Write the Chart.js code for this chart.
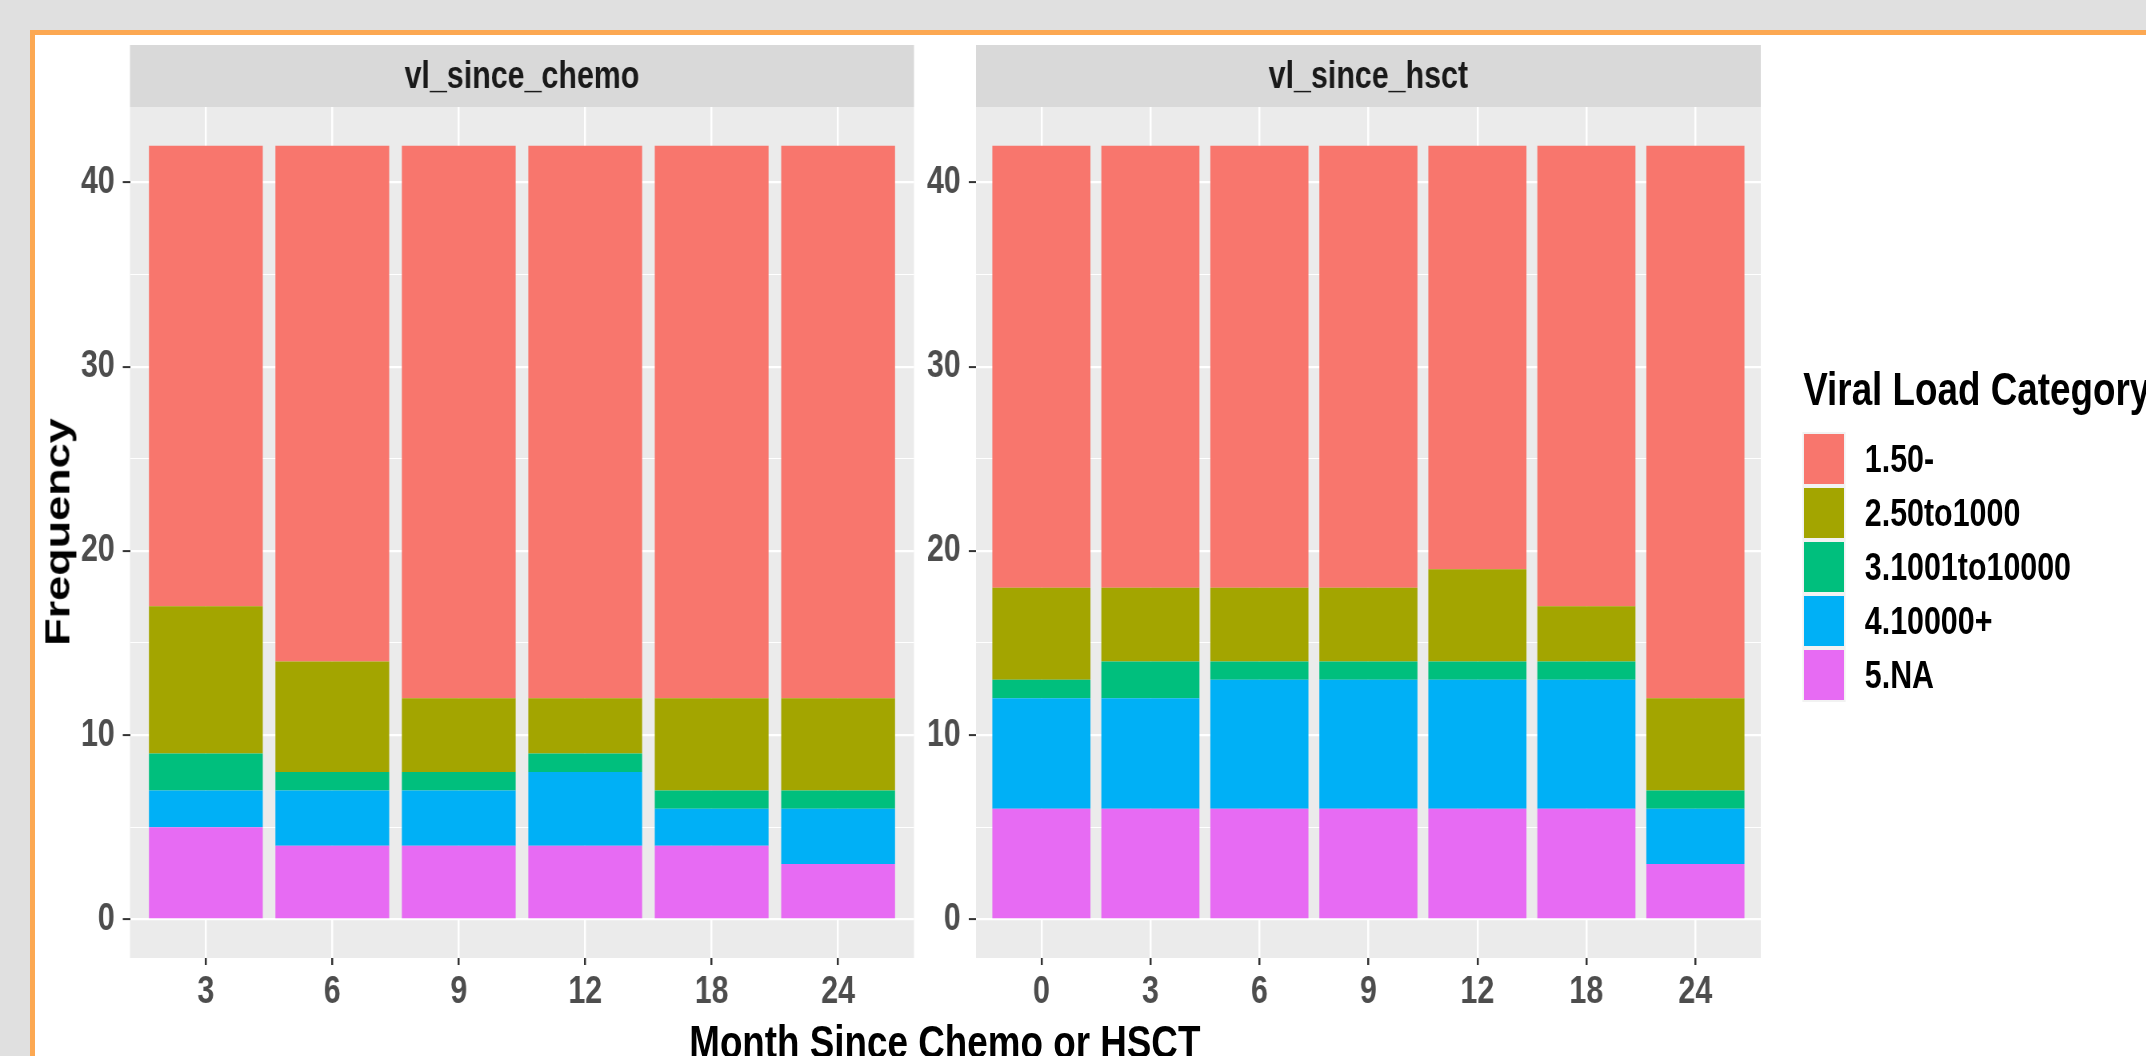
<!DOCTYPE html>
<html>
<head>
<meta charset="utf-8">
<script src="https://cdn.jsdelivr.net/npm/chart.js@4.4.1/dist/chart.umd.min.js"></script>
<style>
  html, body { margin: 0; padding: 0; width: 2146px; height: 1056px; overflow: hidden; background: #e0e0e0; }
  #frame { position: absolute; left: 30px; top: 30px; width: 2200px; height: 1100px; background: #fff;
           border-left: 5px solid #fca852; border-top: 5px solid #fca852; }
  /* the original picture is squeezed horizontally, so the whole plot is drawn wide and scaled */
  #plot { position: absolute; left: 0; top: 0; width: 2683px; height: 1056px;
          transform: scaleX(0.8); transform-origin: 0 0;
          font-family: 'Liberation Sans', Arial, sans-serif; font-weight: bold; }
  canvas { position: absolute; top: 0; }
  #c1 { left: 0; }
  #c2 { left: 1150px; }
  .ttl { position: absolute; white-space: nowrap; color: #000; line-height: 1; }
  #xtitle { left: 1181px; top: 1042px; font-size: 46px; transform: translate(-50%, -50%); }
  #ytitle { left: 71px; top: 532px; font-size: 45px; transform: translate(-50%, -50%) rotate(-90deg); }
  #ltitle { left: 2254px; top: 366px; font-size: 46px; }
  .key { position: absolute; left: 2253px; width: 54px; height: 54px; background: #f2f2f2; }
  .key div { position: absolute; left: 2px; top: 2px; right: 2px; bottom: 2px; }
  .lab { position: absolute; left: 2331px; height: 54px; line-height: 54px; font-size: 38px; color: #000; white-space: nowrap; }
</style>
</head>
<body>
<div id="frame"></div>
<div id="plot">
  <canvas id="c1" width="1150" height="1056"></canvas>
  <canvas id="c2" width="1090" height="1056"></canvas>
  <div class="ttl" id="ytitle">Frequency</div>
  <div class="ttl" id="xtitle">Month Since Chemo or HSCT</div>
  <div class="ttl" id="ltitle">Viral Load Category</div>
  <div id="legend"></div>
</div>
<script>
// series, top of the stack first
const SERIES = ['1.50-', '2.50to1000', '3.1001to10000', '4.10000+', '5.NA'];
const COLORS = ['#F8766D', '#A3A500', '#00BF7D', '#00B0F6', '#E76BF3'];

const Y_MAJOR = [0, 10, 20, 30, 40];
const Y_MINOR = [5, 15, 25, 35];

// vl_since_chemo
const CHEMO_MONTHS = ['3', '6', '9', '12', '18', '24'];
const CHEMO_50 = [25, 28, 30, 30, 30, 30];
const CHEMO_50TO1000 = [8, 6, 4, 3, 5, 5];
const CHEMO_1001TO10000 = [2, 1, 1, 1, 1, 1];
const CHEMO_10000PLUS = [2, 3, 3, 4, 2, 3];
const CHEMO_NA = [5, 4, 4, 4, 4, 3];

// vl_since_hsct
const HSCT_MONTHS = ['0', '3', '6', '9', '12', '18', '24'];
const HSCT_50 = [24, 24, 24, 24, 23, 25, 30];
const HSCT_50TO1000 = [5, 4, 4, 4, 5, 3, 5];
const HSCT_1001TO10000 = [1, 2, 1, 1, 1, 1, 1];
const HSCT_10000PLUS = [6, 6, 7, 7, 7, 7, 3];
const HSCT_NA = [6, 6, 6, 6, 6, 6, 3];

const FONT = "'Liberation Sans', Arial, sans-serif";

// grey panel behind the grid
const panelBg = {
    id: 'panelBg',
    beforeDraw(chart) {
        const { ctx, chartArea: a } = chart;
        ctx.save();
        ctx.fillStyle = '#ebebeb';
        ctx.fillRect(a.left, a.top, a.right - a.left, a.bottom - a.top);
        ctx.restore();
    }
};

// facet strip above the panel
const strip = {
    id: 'strip',
    afterDraw(chart, args, opts) {
        const { ctx, chartArea: a } = chart;
        ctx.save();
        ctx.fillStyle = '#d9d9d9';
        ctx.fillRect(a.left, a.top - 62, a.right - a.left, 62);
        ctx.fillStyle = '#1a1a1a';
        ctx.font = 'bold 38px ' + FONT;
        ctx.textAlign = 'center';
        ctx.textBaseline = 'middle';
        ctx.fillText(opts.text, (a.left + a.right) / 2, a.top - 29);
        ctx.restore();
    }
};

function makePanel(canvasId, months, stack, stripText, axisWidth, padRight) {
    const ctx = document.getElementById(canvasId).getContext('2d');

    // first dataset sits at the bottom of the stack
    const datasets = [];
    for (let s = SERIES.length - 1; s >= 0; s--) {
        datasets.push({
            label: SERIES[s],
            data: stack[s].map((v, i) => ({ x: i + 1, y: v })),
            backgroundColor: COLORS[s],
            borderWidth: 0,
            barPercentage: 0.9,
            categoryPercentage: 1.0
        });
    }

    return new Chart(ctx, {
        type: 'bar',
        data: { datasets: datasets },
        plugins: [panelBg, strip],
        options: {
            responsive: false,
            animation: false,
            devicePixelRatio: 1,
            layout: { padding: { top: 107, left: 0, right: padRight, bottom: 0 }, autoPadding: false },
            plugins: {
                legend: { display: false },
                tooltip: { enabled: false },
                strip: { text: stripText }
            },
            scales: {
                x: {
                    type: 'linear',
                    stacked: true,
                    offset: false,
                    min: 0.4,
                    max: months.length + 0.6,
                    afterBuildTicks: (scale) => {
                        scale.ticks = months.map((m, i) => ({ value: i + 1 }));
                    },
                    afterFit: (scale) => { scale.height = 98; },
                    border: { display: false },
                    grid: {
                        offset: false,
                        color: '#ffffff',
                        lineWidth: 2.5,
                        tickColor: '#333333',
                        tickWidth: 2.5,
                        tickLength: 7
                    },
                    ticks: {
                        autoSkip: false,
                        maxRotation: 0,
                        padding: 5,
                        color: '#4d4d4d',
                        font: { family: FONT, size: 38, weight: 'bold' },
                        callback: (value) => months[Math.round(value) - 1]
                    }
                },
                y: {
                    stacked: true,
                    min: -2.1,
                    max: 44.1,
                    afterBuildTicks: (scale) => {
                        scale.ticks = Y_MAJOR.concat(Y_MINOR).sort((a, b) => a - b).map(v => ({ value: v }));
                    },
                    afterFit: (scale) => { scale.width = axisWidth; },
                    border: { display: false },
                    grid: {
                        color: '#ffffff',
                        lineWidth: (c) => Y_MAJOR.includes(c.tick.value) ? 2.2 : 1.1,
                        tickColor: (c) => Y_MAJOR.includes(c.tick.value) ? '#333333' : 'rgba(0,0,0,0)',
                        tickWidth: 2,
                        tickLength: 9
                    },
                    ticks: {
                        autoSkip: false,
                        padding: 10,
                        color: '#4d4d4d',
                        font: { family: FONT, size: 38, weight: 'bold' },
                        callback: (value) => Y_MAJOR.includes(value) ? String(value) : ''
                    }
                }
            }
        }
    });
}

makePanel('c1', CHEMO_MONTHS,
    [CHEMO_50, CHEMO_50TO1000, CHEMO_1001TO10000, CHEMO_10000PLUS, CHEMO_NA],
    'vl_since_chemo', 162.5, 7.5);
makePanel('c2', HSCT_MONTHS,
    [HSCT_50, HSCT_50TO1000, HSCT_1001TO10000, HSCT_10000PLUS, HSCT_NA],
    'vl_since_hsct', 70, 39);

// legend
const legend = document.getElementById('legend');
SERIES.forEach((name, i) => {
    const top = 432 + 54 * i;
    const key = document.createElement('div');
    key.className = 'key';
    key.style.top = top + 'px';
    const sw = document.createElement('div');
    sw.style.background = COLORS[i];
    key.appendChild(sw);
    legend.appendChild(key);

    const lab = document.createElement('div');
    lab.className = 'lab';
    lab.style.top = top + 'px';
    lab.textContent = name;
    legend.appendChild(lab);
});
</script>
</body>
</html>
